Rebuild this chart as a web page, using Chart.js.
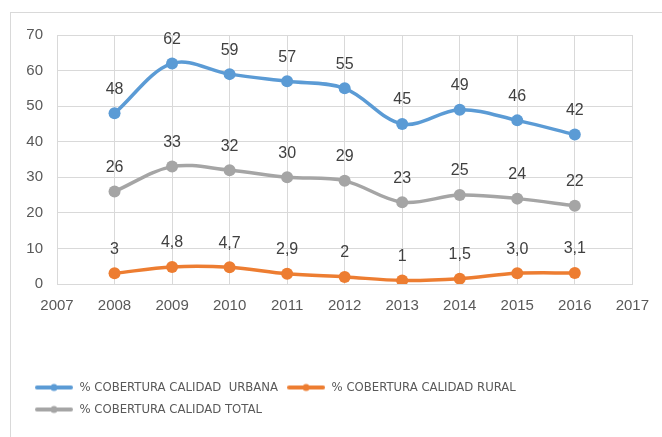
<!DOCTYPE html>
<html>
<head>
<meta charset="utf-8">
<script src="https://cdn.jsdelivr.net/npm/chart.js@4"></script>
<style>
  html, body { margin: 0; padding: 0; background: #fff; overflow: hidden; }
  #wrap { position: relative; width: 662px; height: 437px; }
  #frame { position: absolute; left: 10px; top: 12px; width: 700px; height: 500px; border: 1px solid #d9d9d9; box-sizing: border-box; }
  canvas { position: absolute; left: 0; top: 0; }
</style>
</head>
<body>
<div id="wrap">
  <div id="frame"></div>
  <canvas id="c" width="662" height="437"></canvas>
</div>
<script>
const years = [2008, 2009, 2010, 2011, 2012, 2013, 2014, 2015, 2016];
const xTickMin = 2007;
const xTickMax = 2017;
const seriesNames = ['% COBERTURA CALIDAD  URBANA', '% COBERTURA CALIDAD RURAL', '% COBERTURA CALIDAD TOTAL'];
const urbana = [48, 62, 59, 57, 55, 45, 49, 46, 42];
const rural = [3, 4.8, 4.7, 2.9, 2, 1, 1.5, 3.0, 3.1];
const total = [26, 33, 32, 30, 29, 23, 25, 24, 22];
const urbanaLabels = ['48', '62', '59', '57', '55', '45', '49', '46', '42'];
const ruralLabels = ['3', '4,8', '4,7', '2,9', '2', '1', '1,5', '3,0', '3,1'];
const totalLabels = ['26', '33', '32', '30', '29', '23', '25', '24', '22'];

const TICKFONT = '"Liberation Sans", Arial, sans-serif';
const LEGFONT = '"DejaVu Sans Condensed", "Liberation Sans", Arial, sans-serif';

function legendImage(color) {
  const c = document.createElement('canvas');
  c.width = 38; c.height = 10;
  const x = c.getContext('2d');
  x.strokeStyle = color; x.lineWidth = 4; x.lineCap = 'round';
  x.beginPath(); x.moveTo(2, 5); x.lineTo(36, 5); x.stroke();
  x.fillStyle = color; x.beginPath(); x.arc(19, 5, 3.5, 0, Math.PI * 2); x.fill();
  return c;
}

function pts(vals) { return years.map((y, i) => ({ x: y, y: vals[i] })); }

const colors = ['#5B9BD5', '#ED7D31', '#A5A5A5'];
const labelSets = [urbanaLabels, ruralLabels, totalLabels];
const legendImages = colors.map(legendImage);

const dataLabelPlugin = {
  id: 'dataLabels',
  afterDatasetsDraw(chart) {
    const ctx = chart.ctx;
    ctx.save();
    ctx.font = '16px ' + TICKFONT;
    ctx.fillStyle = '#404040';
    ctx.textAlign = 'center';
    ctx.textBaseline = 'middle';
    chart.data.datasets.forEach((ds, di) => {
      const meta = chart.getDatasetMeta(di);
      meta.data.forEach((p, i) => {
        ctx.fillText(labelSets[di][i], p.x, p.y - 24);
      });
    });
    ctx.restore();
  }
};

const datasets = [
  { label: seriesNames[0], data: pts(urbana), borderColor: colors[0], backgroundColor: colors[0] },
  { label: seriesNames[1], data: pts(rural), borderColor: colors[1], backgroundColor: colors[1] },
  { label: seriesNames[2], data: pts(total), borderColor: colors[2], backgroundColor: colors[2] }
].map(d => Object.assign(d, { borderWidth: 3.5, tension: 0.35, pointStyle: 'circle', pointRadius: 6, pointHoverRadius: 6, pointBorderWidth: 0, fill: false }));

new Chart(document.getElementById('c'), {
  type: 'line',
  data: { datasets },
  options: {
    responsive: false,
    animation: false,
    devicePixelRatio: 1,
    layout: { padding: { left: 26, right: 16, top: 35, bottom: 11 } },
    scales: {
      x: {
        type: 'linear', min: xTickMin, max: xTickMax,
        ticks: { stepSize: 1, color: '#595959', font: { family: TICKFONT, size: 15 }, padding: 13, callback: v => String(v) },
        grid: { color: '#d9d9d9', lineWidth: 1, drawTicks: false },
        border: { color: '#d9d9d9' },
        afterFit: s => { s.height = 88; }
      },
      y: {
        min: 0, max: 70,
        ticks: { stepSize: 10, color: '#595959', font: { family: TICKFONT, size: 15 }, padding: 14 },
        grid: { color: '#d9d9d9', lineWidth: 1, drawTicks: false },
        border: { color: '#d9d9d9' },
        afterFit: s => { s.width = 31; }
      }
    },
    plugins: {
      tooltip: { enabled: false },
      legend: {
        position: 'bottom', align: 'start',
        labels: {
          usePointStyle: true, pointStyleWidth: 38,
          color: '#595959', font: { family: LEGFONT, size: 13 }, padding: 9,
          generateLabels: chart => chart.data.datasets.map((ds, i) => ({
            text: ds.label, pointStyle: legendImages[i], fillStyle: ds.borderColor, strokeStyle: ds.borderColor,
            lineWidth: 0, fontColor: '#595959', datasetIndex: i, hidden: false
          }))
        }
      }
    }
  },
  plugins: [dataLabelPlugin]
});
</script>
</body>
</html>
